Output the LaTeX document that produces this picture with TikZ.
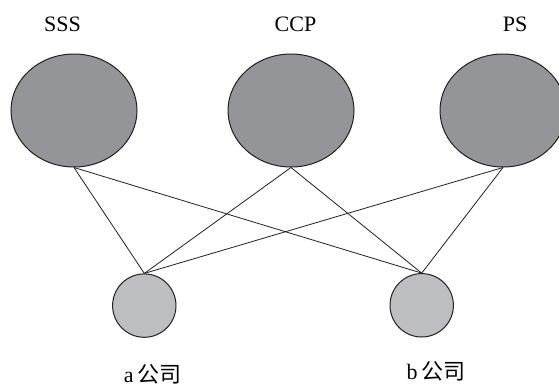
\documentclass[tikz,border=0pt]{standalone}
\usepackage{fontspec}
\setmainfont{Liberation Serif}
\newfontfamily\cjk{Noto Sans CJK SC}
\usetikzlibrary{shapes.geometric}
\definecolor{bigfill}{HTML}{939598}
\definecolor{smallfill}{HTML}{BCBEC0}
\definecolor{ink}{HTML}{231F20}
\tikzset{
  bigdot/.style={ellipse, draw=ink, line width=1pt, fill=bigfill,
    minimum width=126pt, minimum height=113pt, inner sep=0pt},
  smalldot/.style={circle, draw=ink, line width=1pt, fill=smallfill,
    minimum size=63.4pt, inner sep=0pt},
  link/.style={draw=ink, line width=0.8pt},
  caption/.style={anchor=base, inner sep=0pt, font=\fontsize{22}{26}\selectfont}
}
\begin{document}
\begin{tikzpicture}[x=1pt,y=-1pt]
  \useasboundingbox (0,0) rectangle (559,386);
  \clip (0,0) rectangle (559,386);
  % upper row
  \node[bigdot] (sss) at (74,110.5) {};
  \node[bigdot] (ccp) at (291,110.5) {};
  \node[bigdot] (ps)  at (503,110.5) {};
  \node[caption] (tsss) at (62.5,31.5) {SSS};
  \node[caption] (tccp) at (295.5,31) {CCP};
  \node[caption] (tps)  at (515,31) {PS};
  % lower row
  \node[smalldot] (a) at (144.3,305.6) {};
  \node[smalldot] (b) at (421.7,305.3) {};
  \node[caption] (ta) at (152.5,382.5) {a\,{\cjk 公司}};
  \node[caption] (tb) at (436,379) {b\,{\cjk 公司}};
  % links
  \foreach \u in {sss,ccp,ps}
    \foreach \v in {a,b}
      \draw[link] (\u.south) -- (\v.north);
\end{tikzpicture}
\end{document}
